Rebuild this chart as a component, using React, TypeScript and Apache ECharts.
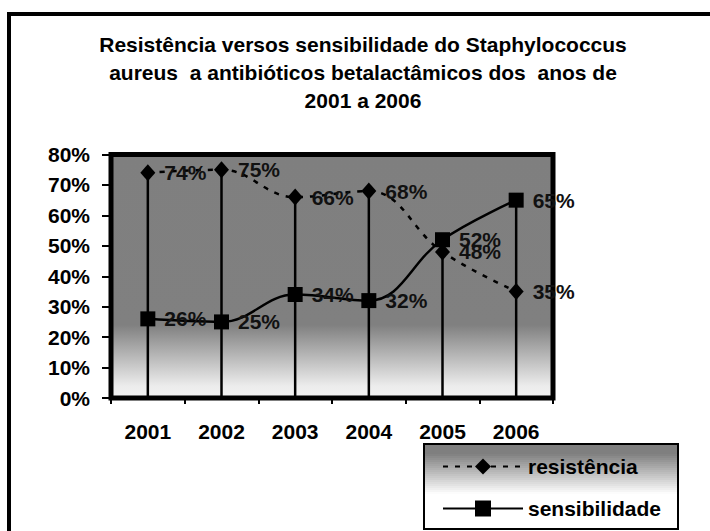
import React, { useEffect, useRef } from "react";
import * as echarts from "echarts";

const years = ["2001", "2002", "2003", "2004", "2005", "2006"];
const resistencia = [74, 75, 66, 68, 48, 35];
const sensibilidade = [26, 25, 34, 32, 52, 65];
const titleText =
  "Resistência versos sensibilidade do Staphylococcus\naureus  a antibióticos betalactâmicos dos  anos de\n2001 a 2006";

const FONT = "Arial, 'Liberation Sans', sans-serif";

export default function App() {
  const ref = useRef<HTMLDivElement>(null);

  useEffect(() => {
    if (!ref.current) return;
    const chart = echarts.init(ref.current, null, { renderer: "svg" });
    const dropTops = years.map((_, i) => Math.max(resistencia[i], sensibilidade[i]));

    const plotBg = new echarts.graphic.LinearGradient(0, 0, 0, 1, [
      { offset: 0, color: "#7f7f7f" },
      { offset: 0.7, color: "#808080" },
      { offset: 0.95, color: "#ececec" },
      { offset: 1, color: "#f2f2f2" },
    ]);

    // legend box background: solid bands (gray top fading to white)
    const box = { x: 424, y: 444, w: 254, h: 85 };
    const legendBands: any[] = [
      {
        type: "rect",
        z: 1,
        silent: true,
        shape: { x: box.x + 1, y: box.y + 1, width: box.w - 2, height: 9 },
        style: { fill: "#7f7f7f" },
      },
    ];
    const nBands = 20;
    for (let i = 0; i < nBands; i++) {
      const t = (i + 0.5) / nBands;
      const v = Math.round(128 + t * (255 - 128));
      legendBands.push({
        type: "rect",
        z: 1,
        silent: true,
        shape: { x: box.x + 1, y: box.y + 10 + i * 2, width: box.w - 2, height: 2.3 },
        style: { fill: `rgb(${v},${v},${v})` },
      });
    }
    legendBands.push({
      type: "rect",
      z: 1,
      silent: true,
      shape: { x: box.x + 1, y: box.y + 10 + nBands * 2, width: box.w - 2, height: box.h - 11 - nBands * 2 },
      style: { fill: "#ffffff" },
    });
    legendBands.push({
      type: "rect",
      z: 2,
      silent: true,
      shape: { x: box.x, y: box.y, width: box.w, height: box.h },
      style: { fill: "none", stroke: "#000", lineWidth: 2 },
    });

    const labelStyle = {
      show: true,
      position: "right" as const,
      distance: 9,
      formatter: "{c}%",
      fontSize: 21,
      fontWeight: "bold" as const,
      fontFamily: FONT,
      color: "#111",
    };

    chart.setOption({
      animation: false,
      backgroundColor: "#ffffff",
      graphic: [
        {
          type: "rect",
          shape: { x: 9, y: 14, width: 720, height: 540 },
          style: { fill: "none", stroke: "#000", lineWidth: 4 },
          silent: true,
        },
        ...legendBands,
        {
          type: "text",
          x: 363,
          y: 30,
          style: {
            text: titleText,
            fontSize: 21,
            fontWeight: "bold",
            fontFamily: FONT,
            fill: "#000",
            align: "center",
            verticalAlign: "top",
            lineHeight: 28,
          },
        },
      ],
      grid: {
        left: 111,
        top: 154.5,
        right: 157,
        bottom: 133,
        show: true,
        backgroundColor: plotBg,
        borderColor: "#000",
        borderWidth: 5,
      },
      legend: {
        orient: "vertical",
        left: 424,
        top: 444,
        z: 5,
        data: ["resistência", "sensibilidade"],
        itemWidth: 80,
        itemHeight: 20,
        itemGap: 21,
        padding: [12, 18, 12, 18],
        textStyle: {
          fontSize: 21,
          fontWeight: "bold",
          fontFamily: FONT,
          color: "#000",
        },
      },
      xAxis: {
        type: "category",
        data: years,
        axisLine: { show: false },
        axisTick: { show: true, length: 6, lineStyle: { color: "#000", width: 2 } },
        axisLabel: {
          margin: 23,
          fontSize: 21,
          fontWeight: "bold",
          fontFamily: FONT,
          color: "#000",
        },
      },
      yAxis: {
        type: "value",
        min: 0,
        max: 80,
        interval: 10,
        splitLine: { show: false },
        axisLine: { show: false },
        axisTick: { show: true, length: 9, lineStyle: { color: "#000", width: 2 } },
        axisLabel: {
          formatter: "{value}%",
          margin: 21,
          fontSize: 21,
          fontWeight: "bold",
          fontFamily: FONT,
          color: "#000",
        },
      },
      series: [
        {
          name: "drop",
          type: "bar",
          data: dropTops,
          barWidth: 2.5,
          itemStyle: { color: "#000" },
          silent: true,
        },
        {
          name: "resistência",
          type: "line",
          data: resistencia,
          smooth: 0.4,
          symbol: "diamond",
          symbolSize: [15, 17],
          lineStyle: { color: "#000", width: 2.5, type: [5, 7] },
          itemStyle: { color: "#000" },
          label: labelStyle,
        },
        {
          name: "sensibilidade",
          type: "line",
          data: sensibilidade,
          smooth: 0.4,
          symbol: "rect",
          symbolSize: 15,
          lineStyle: { color: "#000", width: 2.5 },
          itemStyle: { color: "#000" },
          label: labelStyle,
        },
      ],
    });

    return () => chart.dispose();
  }, []);

  return (
    <div
      ref={ref}
      style={{ position: "absolute", left: 0, top: 0, width: 710, height: 531, background: "#fff" }}
    />
  );
}
